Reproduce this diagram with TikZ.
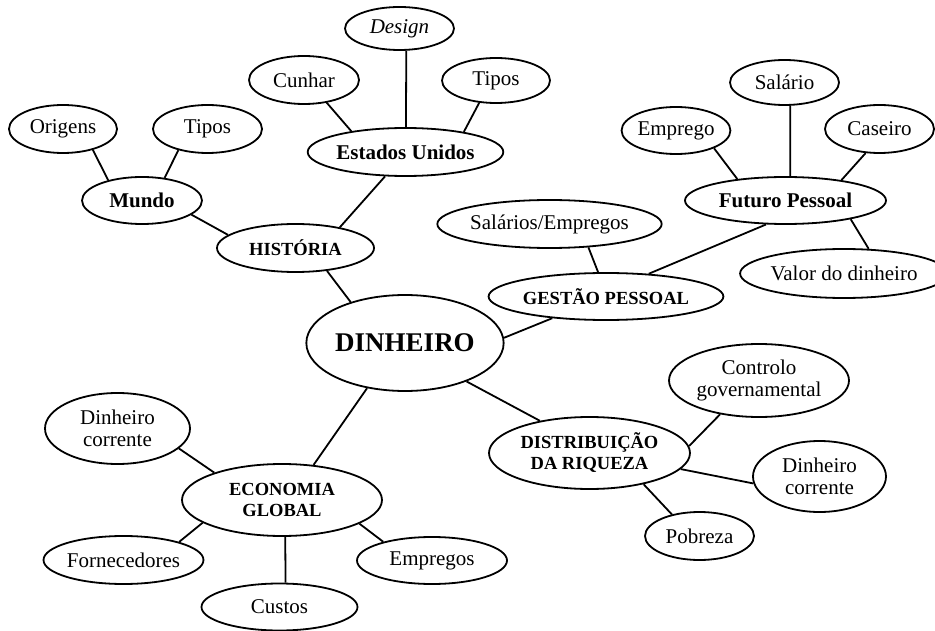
\documentclass[tikz,border=0pt]{standalone}
\usepackage{fontspec}
\setmainfont{Liberation Serif}
\usetikzlibrary{shapes.geometric}
\newcommand\fN{\fontsize{21}{22}\selectfont}
\newcommand\fB{\fontsize{21}{22}\selectfont\bfseries}
\newcommand\fS{\fontsize{18.5}{21}\selectfont\bfseries}
\newcommand\fD{\fontsize{27}{30}\selectfont\bfseries}
\tikzset{
  bub/.style={ellipse, draw, line width=1.8pt, inner sep=0pt, align=center, font=\fN},
  sz/.style 2 args={minimum width=#1pt, minimum height=#2pt},
  link/.style={line width=1.8pt}
}
\begin{document}
\begin{tikzpicture}[x=1pt,y=-1pt]
\useasboundingbox (0,0) rectangle (935,631);
% top-left
\node[bub, sz={109}{43}] (design) at (399.5,28.5) {\itshape Design};
\node[bub, sz={110}{48}] (cunhar) at (304,80) {Cunhar};
\node[bub, sz={108}{45}] (tiposa) at (496,80.5) {Tipos};
\node[bub, sz={194}{48}, font=\fB] (eu) at (405.5,152) {Estados Unidos};
\node[bub, sz={108}{48}] (origens) at (63,129) {Origens};
\node[bub, sz={109}{48}] (tiposb) at (207.5,129) {Tipos};
\node[bub, sz={120}{47}, font=\fB] (mundo) at (142,200.5) {Mundo};
\node[bub, sz={157}{48}, font=\fS] (hist) at (295.5,248) {HISTÓRIA};
% top-right
\node[bub, sz={109}{45}] (salario) at (784.5,82.5) {Salário};
\node[bub, sz={106}{47}] (emprego) at (676,130.5) {Emprego};
\node[bub, sz={109}{48}] (caseiro) at (879.5,129) {Caseiro};
\node[bub, sz={201}{47}, font=\fB] (fp) at (785.5,200.5) {Futuro Pessoal};
\node[bub, sz={195}{48}] (salemp) at (549.5,224) {Salários/Empregos};
\node[bub, sz={180}{49}] (valor) at (844,273.5) {Valor do dinheiro};
\node[bub, sz={202}{47}, font=\fS] (gp) at (606,296.5) {GESTÃO PESSOAL};
% centre
\node[bub, sz={194}{96}, font=\fD] (din) at (405,343) {DINHEIRO};
% bottom-right
\node[bub, sz={180}{73}] (controlo) at (759,380.5) {Controlo\\governamental};
\node[bub, sz={201}{72}, font=\fS] (dr) at (589.5,453) {DISTRIBUIÇÃO\\DA RIQUEZA};
\node[bub, sz={133}{71}] (dcr) at (819.5,476.5) {Dinheiro\\corrente};
\node[bub, sz={109}{48}] (pobreza) at (699.5,536) {Pobreza};
% bottom-left
\node[bub, sz={145}{71}] (dcl) at (117.5,428.5) {Dinheiro\\corrente};
\node[bub, sz={200}{72}, font=\fS] (eg) at (282,500) {ECONOMIA\\GLOBAL};
\node[bub, sz={157}{48}] (forn) at (123.5,560) {Fornecedores};
\node[bub, sz={156}{47}] (custos) at (279.5,607) {Custos};
\node[bub, sz={150}{47}] (empregos) at (432,560.5) {Empregos};
% connectors
\draw[link] (design.-73) -- (eu.89);
\draw[link] (cunhar.-45) -- (eu.159.1);
\draw[link] (tiposa.-127.5) -- (eu.19.2);
\draw[link] (eu.-130.7) -- (hist.25.8);
\draw[link] (origens.-35) -- (mundo.149.6);
\draw[link] (tiposb.-144.6) -- (mundo.45.6);
\draw[link] (mundo.-16.2) -- (hist.169.1);
\draw[link] (hist.-36.1) -- (din.143.6);
\draw[link] (salario.-76.2) -- (fp.79.2);
\draw[link] (emprego.-25.9) -- (fp.156.5);
\draw[link] (caseiro.-120.4) -- (fp.20.8);
\draw[link] (fp.-16.3) -- (valor.45.6);
\draw[link] (fp.-129.7) -- (gp.28.1);
\draw[link] (salemp.-31.3) -- (gp.108.1);
\draw[link] (gp.-158.9) -- (din.3);
\draw[link] (din.-32.2) -- (dr.147.1);
\draw[link] (controlo.-139.1) -- (dr.4);
\draw[link] (dcr.-174.2) -- (dr.-10);
\draw[link] (pobreza.142.6) -- (dr.-30.6);
\draw[link] (din.-130.2) -- (eg.48.5);
\draw[link] (dcl.-18.4) -- (eg.158);
\draw[link] (forn.18.6) -- (eg.-164.1);
\draw[link] (custos.76.8) -- (eg.-85.2);
\draw[link] (empregos.159.3) -- (eg.-17.1);
\end{tikzpicture}
\end{document}
